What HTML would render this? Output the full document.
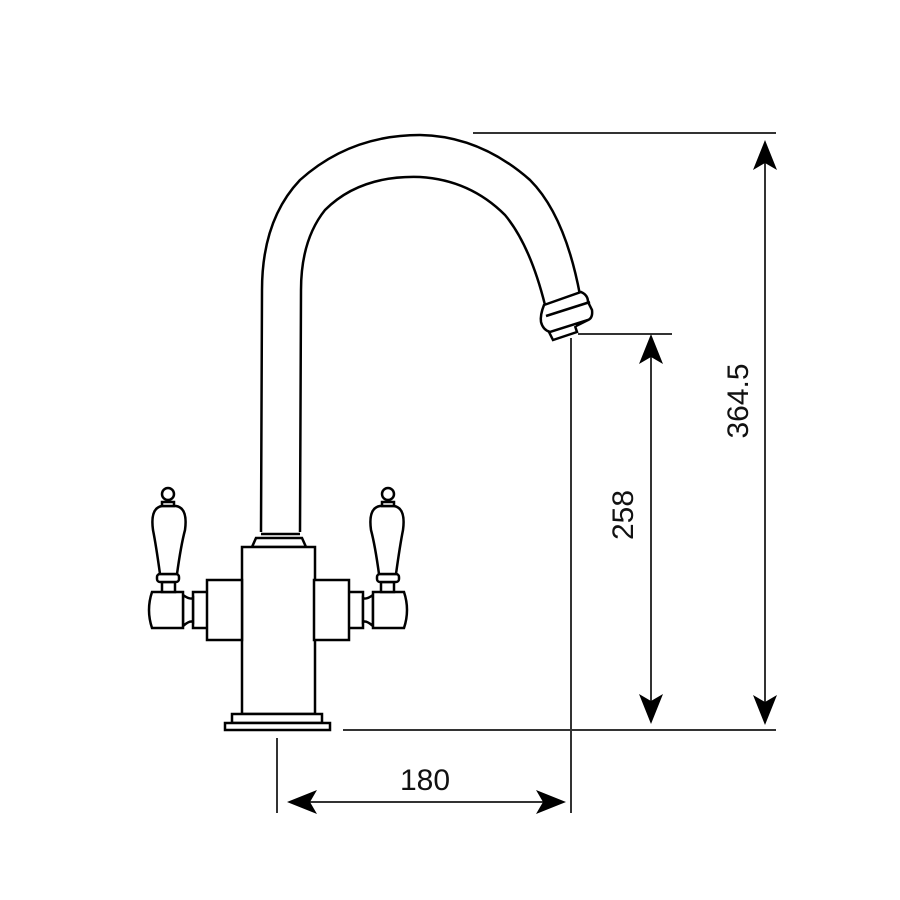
<!DOCTYPE html>
<html><head><style>body{margin:0;background:#fff}svg{display:block}</style></head><body>
<svg width="900" height="900" viewBox="0 0 900 900" xmlns="http://www.w3.org/2000/svg">
<defs>
<g id="h" fill="#fff" stroke="#000" stroke-width="2.5">
<rect x="193" y="592" width="15" height="36"/>
<path d="M183,595 Q190,600 193,598 L193,622 Q190,620 183,626 Z"/>
<path d="M152,592 L183,592 L183,628 L152,628 Q146,610 152,592 Z"/>
<rect x="162" y="582" width="13" height="10"/>
<rect x="157" y="574" width="22" height="8" rx="3"/>
<path d="M160,574 Q156,545 153,530 Q150,508 162,506 L176,506 Q188,508 185,530 Q181,545 177,574 Z"/>
<rect x="162" y="502" width="12" height="4"/>
<circle cx="168" cy="494" r="6"/>
<rect x="207" y="580" width="35" height="60"/>
</g>
</defs>
<g fill="none" stroke="#000" stroke-width="2.5">
<!-- spout -->
<path d="M261,532 L262,290 Q262,220 300,180 Q350,135 420,135 Q480,136 530,180 Q565,215 580,295"/>
<path d="M300,532 L301,290 Q301,240 325,210 Q360,175 420,177 Q470,180 505,215 Q530,245 545,305"/>
<path d="M544,305 L581,292 Q588,295 588,302 L592,310 Q593,318 588,320 L550,332 Q543,330 541,322 Q540,315 544,305 Z" fill="#fff"/>
<path d="M546,316 L590,302"/>
<path d="M549,332 L553,340 L577,332 L575,326 M588,320 L576,326"/>
<!-- collar -->
<path d="M256,538 L302,538 L306,547 L252,547 Z" fill="#fff"/>
<line x1="261" y1="534" x2="300" y2="534"/>
<!-- body -->
<rect x="242" y="547" width="73" height="167" fill="#fff"/>
<rect x="232" y="714" width="90" height="9" fill="#fff"/>
<rect x="225" y="723" width="105" height="7" fill="#fff"/>
</g>
<use href="#h"/>
<use href="#h" transform="translate(556,0) scale(-1,1)"/>
<!-- dimensions -->
<g stroke="#333" stroke-width="2" fill="none">
<line x1="473" y1="133" x2="776" y2="133"/>
<line x1="343" y1="730" x2="776" y2="730"/>
<line x1="578" y1="334" x2="672" y2="334"/>
<line x1="765" y1="145" x2="765" y2="720"/>
<line x1="651" y1="345" x2="651" y2="712"/>
<line x1="571" y1="338" x2="571" y2="813"/>
<line x1="277" y1="738" x2="277" y2="813"/>
<line x1="295" y1="802" x2="557" y2="802"/>
</g>
<g fill="#000">
<path d="M765,140 L777,170 L765,163 L753,170 Z"/>
<path d="M765,725 L777,695 L765,702 L753,695 Z"/>
<path d="M651,334 L663,364 L651,357 L639,364 Z"/>
<path d="M651,724 L663,694 L651,701 L639,694 Z"/>
<path d="M287,802 L317,790 L310,802 L317,814 Z"/>
<path d="M566,802 L536,790 L543,802 L536,814 Z"/>
</g>
<g font-family="Liberation Sans, sans-serif" font-size="30" fill="#111" text-anchor="middle">
<text x="425" y="790">180</text>
<text transform="translate(633,515) rotate(-90)">258</text>
<text transform="translate(748,401) rotate(-90)">364.5</text>
</g>
</svg>
</body></html>
